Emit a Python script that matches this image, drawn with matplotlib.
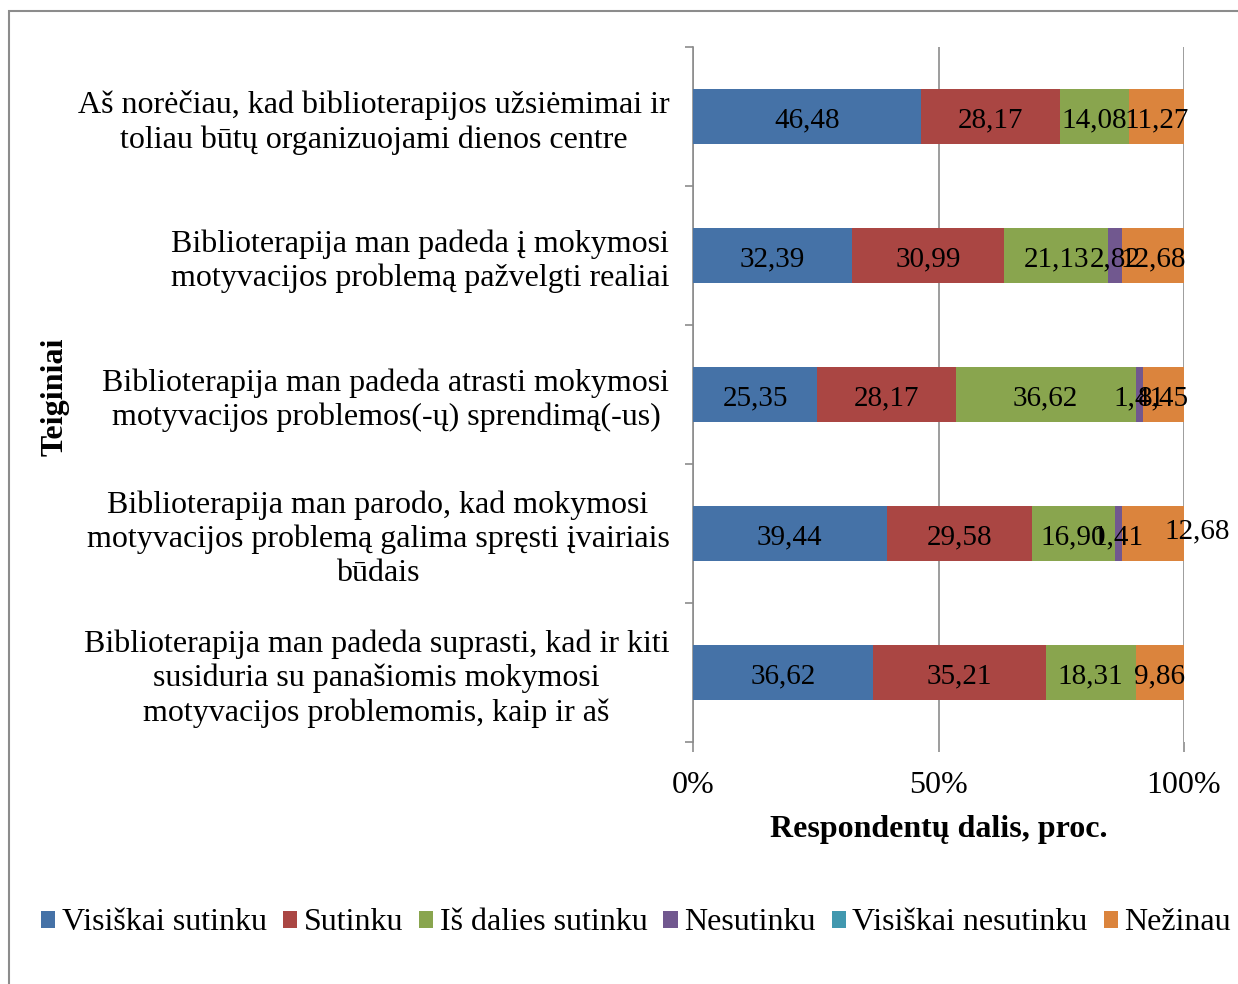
import numpy as np
import matplotlib.pyplot as plt
from matplotlib.patches import Rectangle

plt.rcParams['font.family'] = ['Liberation Serif', 'DejaVu Serif']

statements = [
    "Aš norėčiau, kad biblioterapijos užsiėmimai ir\ntoliau būtų organizuojami dienos centre",
    "Biblioterapija man padeda į mokymosi\nmotyvacijos problemą pažvelgti realiai",
    "Biblioterapija man padeda atrasti mokymosi\nmotyvacijos problemos(-ų) sprendimą(-us)",
    "Biblioterapija man parodo, kad mokymosi\nmotyvacijos problemą galima spręsti įvairiais\nbūdais",
    "Biblioterapija man padeda suprasti, kad ir kiti\nsusiduria su panašiomis mokymosi\nmotyvacijos problemomis, kaip ir aš",
]
answers = ["Visiškai sutinku", "Sutinku", "Iš dalies sutinku", "Nesutinku",
           "Visiškai nesutinku", "Nežinau"]

visiskai_sutinku = [46.48, 32.39, 25.35, 39.44, 36.62]
sutinku = [28.17, 30.99, 28.17, 29.58, 35.21]
is_dalies = [14.08, 21.13, 36.62, 16.90, 18.31]
nesutinku = [0, 2.82, 1.41, 1.41, 0]
visiskai_nesutinku = [0, 0, 0, 0, 0]
nezinau = [11.27, 12.68, 8.45, 12.68, 9.86]

series = [visiskai_sutinku, sutinku, is_dalies, nesutinku, visiskai_nesutinku, nezinau]
colors = ["#4572A7", "#AA4643", "#89A54E", "#71588F", "#4198AF", "#DB843D"]

W, H = 1238, 984
fig = plt.figure(figsize=(W / 100, H / 100), dpi=100)
fig.patches.append(Rectangle((9 / W, -0.1), 1.2, 1 - 11 / H + 0.1, transform=fig.transFigure,
                             fill=False, edgecolor="#8c8c8c", linewidth=1.5))

ax = fig.add_axes([693 / W, 1 - 742 / H, (1184 - 693) / W, (742 - 47) / H])
fs = 23
fs_lab = 21

y = np.arange(len(statements))
left = np.zeros(len(statements))
for vals, col, name in zip(series, colors, answers):
    vals = np.array(vals, dtype=float)
    ax.barh(y, vals, left=left, height=0.40, color=col, label=name, zorder=3)
    for i, v in enumerate(vals):
        if v <= 0:
            continue
        cx = left[i] + v / 2
        dx, dy = 0, -4
        # label pushed outside the bar in the source chart
        if name == "Nežinau" and i == 3:
            dx, dy = 44, 2
        ax.annotate(f"{v:.2f}".replace(".", ","), (cx, y[i]), xytext=(dx * 0.72, dy * 0.72),
                    textcoords="offset points", ha="center", va="center",
                    fontsize=fs_lab, zorder=5)
    left += vals

ax.set_xlim(0, 100)
ax.set_ylim(len(statements) - 0.5, -0.5)
ax.set_xticks([0, 50, 100])
ax.set_xticklabels(["0%", "50%", "100%"], fontsize=fs)
ax.set_yticks(y)
ax.set_yticklabels(statements, fontsize=fs, multialignment="center", linespacing=1.22)
ax.set_yticks(np.arange(-0.5, len(statements)), minor=True)
ax.tick_params(axis="y", which="major", length=0, pad=17)
ax.tick_params(axis="y", which="minor", length=6, color="#8c8c8c", width=1.2)
ax.tick_params(axis="x", length=7, color="#8c8c8c", width=1.2, pad=14)
ax.grid(axis="x", color="#8c8c8c", linewidth=1.2, zorder=0)
for s in ["top", "right", "bottom"]:
    ax.spines[s].set_visible(False)
ax.spines["left"].set_color("#8c8c8c")
ax.spines["left"].set_linewidth(1.2)

ax.set_xlabel("Respondentų dalis, proc.", fontsize=fs, fontweight="bold", labelpad=11)
fig.text(55 / W, 1 - 397 / H, "Teiginiai", rotation=90, fontsize=fs, fontweight="bold",
         ha="center", va="center")

fig.legend(loc="center", bbox_to_anchor=(636 / W, 1 - 923 / H), ncol=6, frameon=False,
           fontsize=fs, handlelength=0.45, handleheight=0.45, handletextpad=0.2,
           columnspacing=0.5, borderaxespad=0)

fig.savefig("out.png", dpi=100)
